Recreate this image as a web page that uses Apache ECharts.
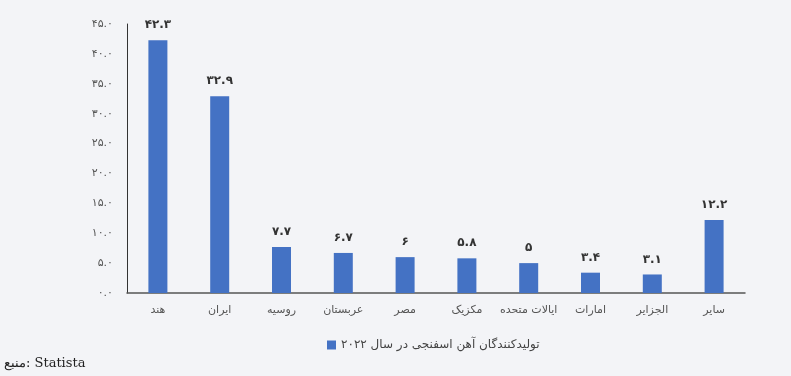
<!DOCTYPE html>
<html>
<head>
<meta charset="utf-8">
<script src="https://cdn.jsdelivr.net/npm/echarts@6/dist/echarts.min.js"></script>
<style>
  html, body { margin: 0; padding: 0; background: #f3f4f7; }
  #container { width: 791px; height: 376px; }
</style>
</head>
<body>
<div id="container"></div>
<script>
  // داده‌ها
  var countries = ['هند', 'ایران', 'روسیه', 'عربستان', 'مصر', 'مکزیک', 'ایالات متحده', 'امارات', 'الجزایر', 'سایر'];
  var production = [42.3, 32.9, 7.7, 6.7, 6, 5.8, 5, 3.4, 3.1, 12.2];
  var seriesName = 'تولیدکنندگان آهن اسفنجی در سال ۲۰۲۲';
  var sourceText = 'منبع: Statista';

  var faDigits = '۰۱۲۳۴۵۶۷۸۹';
  function toFa(s) {
    return String(s).replace(/[0-9]/g, function (d) { return faDigits[+d]; });
  }

  var myChart = echarts.init(document.getElementById('container'));
  var option = {
    backgroundColor: '#f3f4f7',
    textStyle: { fontFamily: 'DejaVu Sans' },
    grid: { left: 127, right: 46, top: 24, bottom: 83 },
    legend: {
      data: [seriesName],
      top: 334,
      left: 322,
      icon: 'rect',
      itemWidth: 9,
      itemHeight: 9,
      itemGap: 4,
      textStyle: { fontSize: 12, color: '#444', fontFamily: 'DejaVu Sans' }
    },
    graphic: [{
      type: 'text',
      left: 4,
      top: 357,
      style: { text: sourceText, fontSize: 13, fill: '#222', fontFamily: 'DejaVu Serif' }
    }],
    xAxis: {
      type: 'category',
      data: countries,
      axisLine: { lineStyle: { color: '#555', width: 1.5 } },
      axisTick: { show: false },
      axisLabel: { interval: 0, color: '#555', fontSize: 11, margin: 12 }
    },
    yAxis: {
      type: 'value',
      min: 0,
      max: 45,
      interval: 5,
      axisLine: { show: true, lineStyle: { color: '#333', width: 1 } },
      axisTick: { show: false },
      splitLine: { show: false },
      axisLabel: {
        color: '#555',
        fontSize: 11,
        margin: 14,
        formatter: function (v) { return toFa(v.toFixed(1)); }
      }
    },
    series: [{
      name: seriesName,
      type: 'bar',
      data: production,
      barWidth: 19,
      itemStyle: { color: '#4472c4' },
      label: {
        show: true,
        position: 'top',
        distance: 9,
        color: '#333',
        fontSize: 12,
        fontWeight: 'bold',
        formatter: function (p) { return toFa(p.value); }
      }
    }]
  };
  myChart.setOption(option);
</script>
</body>
</html>
